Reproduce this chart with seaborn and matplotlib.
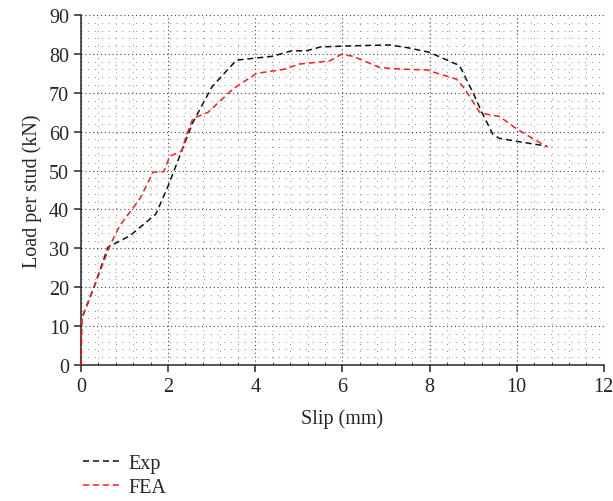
import numpy as np
import pandas as pd
import seaborn as sns
import matplotlib.pyplot as plt
from matplotlib.ticker import MultipleLocator

# 试验曲线 (Exp)
exp_slip = [0.0, 0.02, 0.3, 0.62, 1.12, 1.72, 2.0, 2.39, 2.57, 3.0, 3.23, 3.57, 4.4,
            4.83, 5.17, 5.5, 6.0, 6.6, 7.09, 7.5, 8.0, 8.69, 9.0, 9.2, 9.45, 9.6,
            10.07, 10.69]
exp_load = [0.0, 12.0, 20.0, 30.3, 33.2, 38.8, 46.0, 57.3, 62.4, 71.4, 74.3, 78.4, 79.4,
            80.8, 80.8, 81.8, 82.0, 82.2, 82.3, 81.6, 80.4, 77.0, 70.0, 65.0, 59.4, 58.3,
            57.4, 56.3]

# 有限元曲线 (FEA)
fea_slip = [0.0, 0.02, 0.3, 0.66, 0.89, 1.35, 1.66, 1.9, 2.04, 2.31, 2.42, 2.57, 2.92,
            3.49, 4.03, 4.64, 5.02, 5.71, 5.98, 6.24, 6.86, 7.32, 7.93, 8.62, 8.81,
            9.15, 9.31, 9.61, 10.0, 10.71]
fea_load = [0.0, 12.0, 20.0, 30.6, 35.8, 42.7, 49.6, 49.7, 53.7, 55.0, 59.0, 63.4, 65.0,
            71.0, 75.0, 76.0, 77.4, 78.2, 79.9, 79.4, 76.5, 76.1, 75.9, 73.5, 71.0,
            65.0, 64.5, 63.9, 60.7, 56.0]

df = pd.concat([
    pd.DataFrame({"slip": exp_slip, "load": exp_load, "case": "Exp"}),
    pd.DataFrame({"slip": fea_slip, "load": fea_load, "case": "FEA"}),
])

sns.set_style("ticks")
plt.rcParams["font.family"] = ["Liberation Serif", "DejaVu Serif"]

fig = plt.figure(figsize=(6.13, 5.02), dpi=100)
ax = fig.add_axes([0.132, 0.271, 0.853, 0.697])

sns.lineplot(data=df, x="slip", y="load", hue="case", style="case",
             palette={"Exp": "#111111", "FEA": "#ff1a1a"},
             dashes={"Exp": (4, 2.5), "FEA": (4, 2.5)},
             linewidth=1.1, sort=False, estimator=None, ax=ax,
             zorder=3, clip_on=False)

ax.set_xlim(0, 12)
ax.set_ylim(0, 90)
ax.xaxis.set_major_locator(MultipleLocator(2))
ax.xaxis.set_minor_locator(MultipleLocator(0.4))
ax.yaxis.set_major_locator(MultipleLocator(10))
ax.yaxis.set_minor_locator(MultipleLocator(2))

# 网格：主网格和次网格都是点线
ax.grid(which="major", linestyle=(0, (1, 2.5)), color="#444444", linewidth=0.8)
ax.grid(which="minor", linestyle=(0, (1, 6)), color="#8a8a8a", linewidth=0.7)
ax.set_axisbelow(True)

sns.despine(ax=ax)
ax.spines["left"].set_linewidth(1.1)
ax.spines["bottom"].set_linewidth(1.1)
ax.tick_params(which="major", direction="out", length=5, width=1.1, labelsize=14.5)
ax.tick_params(axis="x", which="minor", direction="in", length=2.5, width=0.6)
ax.tick_params(axis="y", which="minor", length=0)

ax.set_xlabel("Slip (mm)", fontsize=14.5, labelpad=9)
ax.set_ylabel("Load per stud (kN)", fontsize=14.5, labelpad=5)

ax.legend(loc="upper left", bbox_to_anchor=(-0.012, -0.23), frameon=False,
          fontsize=14.5, handlelength=1.8, handletextpad=0.45, labelspacing=0.25,
          borderaxespad=0)

fig.savefig("out.png", dpi=100)
